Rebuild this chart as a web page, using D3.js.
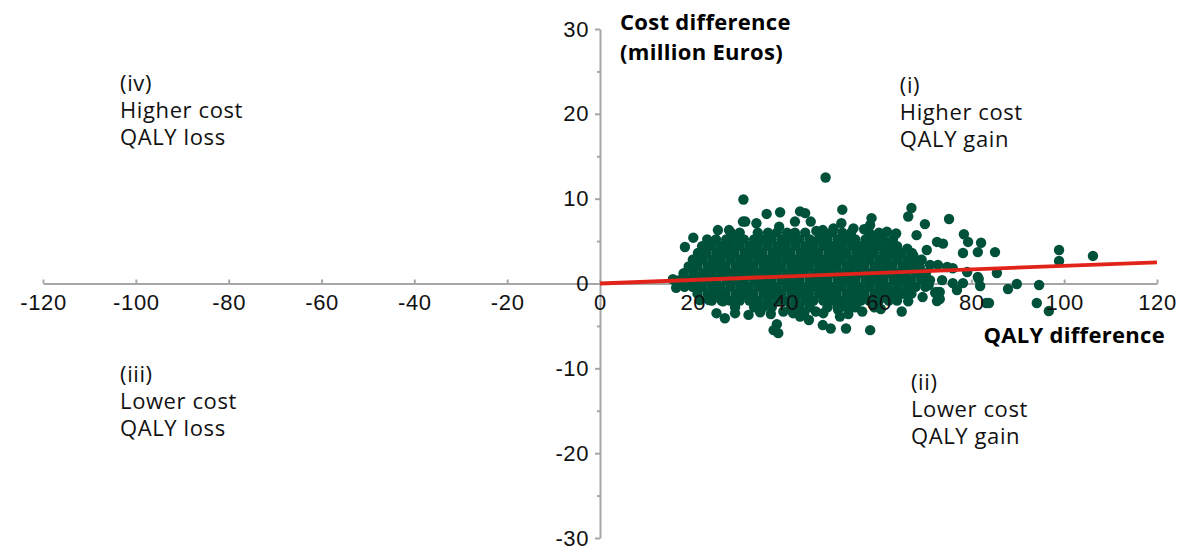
<!DOCTYPE html>
<html>
<head>
<meta charset="utf-8">
<script src="https://cdn.jsdelivr.net/npm/d3@7"></script>
<style>
  html, body { margin: 0; padding: 0; background: #ffffff; }
  svg { display: block; font-family: "Open Sans", "Noto Sans", sans-serif; }
</style>
</head>
<body>
<svg id="chart" width="1178" height="547"></svg>
<script>
// Incremental QALY gain (x) vs. incremental cost in million euros (y), one dot per simulation run.

const xTicks = [-120, -100, -80, -60, -40, -20, 0, 20, 40, 60, 80, 100, 120];
const yTicks = [-30, -20, -10, 0, 10, 20, 30];
const yMinorTicks = [-25, -15, -5, 5, 15, 25];

// Dense centre of the cloud, upper part: [QALY difference, cost difference]
const coreTop = [
  [28.2,6.0],[30.1,6.0],[34.0,6.0],[36.2,6.0],[38.1,6.0],[40.3,6.0],[42.0,6.0],[44.2,6.0],[48.3,6.0],[50.0,6.0],[52.2,6.0],[54.1,6.0],[58.0,6.0],[60.1,6.0],
  [23.1,5.2],[25.0,5.2],[27.2,5.2],[29.1,5.2],[31.0,5.2],[33.2,5.2],[35.1,5.2],[37.0,5.2],[39.2,5.2],[41.1,5.2],[43.0,5.2],[45.2,5.2],[47.1,5.2],[49.0,5.2],[51.2,5.2],[53.1,5.2],[55.0,5.2],[57.2,5.2],[59.1,5.2],[61.0,5.2],[63.1,5.2],
  [22.0,4.4],[24.1,4.4],[26.2,4.4],[28.0,4.4],[30.1,4.4],[32.2,4.4],[34.0,4.4],[36.1,4.4],[38.2,4.4],[40.0,4.4],[42.1,4.4],[44.2,4.4],[46.0,4.4],[48.1,4.4],[50.2,4.4],[52.0,4.4],[54.1,4.4],[56.2,4.4],[58.0,4.4],[60.1,4.4],[62.2,4.4],[64.0,4.4],
  [21.1,3.6],[23.0,3.6],[25.2,3.6],[27.1,3.6],[29.0,3.6],[31.2,3.6],[33.1,3.6],[35.0,3.6],[37.2,3.6],[39.1,3.6],[41.0,3.6],[43.2,3.6],[45.1,3.6],[47.0,3.6],[49.2,3.6],[51.1,3.6],[53.0,3.6],[55.2,3.6],[57.1,3.6],[59.0,3.6],[61.2,3.6],[63.1,3.6],[65.0,3.6],[67.2,3.6]
];

// Dense centre, around the horizontal axis
const coreMiddle = [
  [20.0,2.8],[22.1,2.8],[24.2,2.8],[26.0,2.8],[28.1,2.8],[30.2,2.8],[32.0,2.8],[34.1,2.8],[36.2,2.8],[38.0,2.8],[40.1,2.8],[42.2,2.8],[44.0,2.8],[46.1,2.8],[48.2,2.8],[50.0,2.8],[52.1,2.8],[54.2,2.8],[56.0,2.8],[58.1,2.8],[60.2,2.8],[62.0,2.8],[64.1,2.8],[66.2,2.8],[68.0,2.8],
  [19.1,2.0],[21.0,2.0],[23.2,2.0],[25.1,2.0],[27.0,2.0],[29.2,2.0],[31.1,2.0],[33.0,2.0],[35.2,2.0],[37.1,2.0],[39.0,2.0],[41.2,2.0],[43.1,2.0],[45.0,2.0],[47.2,2.0],[49.1,2.0],[51.0,2.0],[53.2,2.0],[55.1,2.0],[57.0,2.0],[59.2,2.0],[61.1,2.0],[63.0,2.0],[65.2,2.0],[67.1,2.0],
  [18.0,1.2],[20.1,1.2],[22.2,1.2],[24.0,1.2],[26.1,1.2],[28.2,1.2],[30.0,1.2],[32.1,1.2],[34.2,1.2],[36.0,1.2],[38.1,1.2],[40.2,1.2],[42.0,1.2],[44.1,1.2],[46.2,1.2],[48.0,1.2],[50.1,1.2],[52.2,1.2],[54.0,1.2],[56.1,1.2],[58.2,1.2],[60.0,1.2],[62.1,1.2],[64.2,1.2],[66.0,1.2],[68.1,1.2],[70.2,1.2],
  [17.1,0.4],[19.0,0.4],[21.2,0.4],[23.1,0.4],[25.0,0.4],[27.2,0.4],[29.1,0.4],[31.0,0.4],[33.2,0.4],[35.1,0.4],[37.0,0.4],[39.2,0.4],[41.1,0.4],[43.0,0.4],[45.2,0.4],[47.1,0.4],[49.0,0.4],[51.2,0.4],[53.1,0.4],[55.0,0.4],[57.2,0.4],[59.1,0.4],[61.0,0.4],[63.2,0.4],[65.1,0.4],[67.0,0.4],[69.2,0.4],[71.1,0.4]
];

// Dense centre, lower part
const coreBottom = [
  [18.2,-0.4],[20.0,-0.4],[22.1,-0.4],[24.2,-0.4],[26.0,-0.4],[28.1,-0.4],[30.2,-0.4],[32.0,-0.4],[34.1,-0.4],[36.2,-0.4],[38.0,-0.4],[40.1,-0.4],[42.2,-0.4],[44.0,-0.4],[46.1,-0.4],[48.2,-0.4],[50.0,-0.4],[52.1,-0.4],[54.2,-0.4],[56.0,-0.4],[58.1,-0.4],[60.2,-0.4],[62.0,-0.4],[64.1,-0.4],[66.2,-0.4],[68.0,-0.4],[70.1,-0.4],
  [21.0,-1.2],[23.2,-1.2],[25.1,-1.2],[27.0,-1.2],[29.2,-1.2],[31.1,-1.2],[33.0,-1.2],[35.2,-1.2],[37.1,-1.2],[39.0,-1.2],[41.2,-1.2],[43.1,-1.2],[45.0,-1.2],[47.2,-1.2],[49.1,-1.2],[51.0,-1.2],[53.2,-1.2],[55.1,-1.2],[57.0,-1.2],[59.2,-1.2],[61.1,-1.2],[63.0,-1.2],[65.2,-1.2],[67.1,-1.2],
  [24.1,-2.0],[26.2,-2.0],[28.0,-2.0],[30.1,-2.0],[32.2,-2.0],[34.0,-2.0],[36.1,-2.0],[38.2,-2.0],[40.0,-2.0],[42.1,-2.0],[44.2,-2.0],[46.0,-2.0],[48.1,-2.0],[50.2,-2.0],[52.0,-2.0],[54.1,-2.0],[56.2,-2.0],[58.0,-2.0],[60.1,-2.0],[62.2,-2.0],[64.0,-2.0],
  [29.1,-2.8],[33.2,-2.8],[35.1,-2.8],[37.0,-2.8],[41.1,-2.8],[43.0,-2.8],[45.2,-2.8],[49.0,-2.8],[51.2,-2.8],[53.1,-2.8],[55.0,-2.8],[59.1,-2.8]
];

// Scattered runs round the edge of the cloud
const outerPoints = [
  [48.6,12.5],[30.9,9.9],[67.1,8.9],[66.4,7.9],[75.2,7.6],[70.0,7.0],[68.2,5.7],[78.4,5.8],[79.3,4.9],[72.6,4.9],[73.9,4.7],[82.1,4.8],
  [70.4,3.95],[78.2,3.6],[81.4,3.7],[85.1,3.7],[98.9,3.95],[98.9,2.66],[106.2,3.25],[85.5,1.24],[81.6,0.53],[81.9,-0.3],[87.9,-0.65],
  [89.8,-0.06],[94.6,-0.18],[94.1,-2.3],[96.7,-3.25],[83.2,-2.3],[83.8,-2.3],[73.2,-1.83],[72.4,-1.0],
  [43.1,8.5],[44.2,8.3],[52.2,8.7],[38.8,8.4],[35.9,8.2],[58.5,7.7],[52.0,7.1],[42.0,7.3],[45.4,7.3],[54.6,6.5],[58.2,6.9],
  [61.8,6.1],[63.8,5.9],[50.3,6.5],[48.0,6.3],[31.3,7.3],[33.7,7.1],[30.8,7.3],[25.4,6.3],[27.8,6.3],[20.1,5.4],[18.3,4.3],
  [23.7,4.5],[21.9,3.8],[20.1,2.5],[46.6,6.2],[56.9,6.4],[38.6,6.7],
  [15.7,0.5],[16.4,-0.5],[20.1,-0.4],[21.5,-1.95],[23.5,-1.95],[26.5,-2.1],[25.1,-3.5],[26.9,-4.1],[29.1,-3.5],[32.0,-3.7],
  [38.1,-4.8],[37.4,-5.5],[38.4,-5.85],[41.6,-3.5],[43.1,-3.9],[45.0,-4.3],[48.0,-4.9],[49.7,-5.3],[53.0,-5.3],[58.2,-5.5],
  [48.1,-3.5],[51.7,-3.9],[51.3,-3.1],[55.3,-2.3],[60.3,-1.1],[64.2,-1.0],[65.0,-3.3],[66.4,-2.1],[63.9,-1.55],
  [34.5,-3.4],[36.8,-3.6],[39.5,-3.3],[44.0,-3.5],[46.5,-3.3],[53.5,-3.6],[56.5,-3.3],[60.5,-3.0],
  [68.9,1.95],[71.1,2.2],[72.8,2.2],[74.8,1.95],[76.0,1.8],[79.1,1.35],[81.4,0.77],[73.7,0.4],[76.0,0.05],[78.2,0.05],
  [73.2,-1.0],[72.2,-1.1],[76.9,-0.77],[72.6,-2.07],[66.2,4.1],[67.5,3.3],[69.3,2.8],[69.5,-1.6],[70.8,-0.2]
];

// Willingness-to-pay line through the origin
const thresholdLine = [[0, 0], [120, 2.5]];

// Quadrant descriptions, placed at the first line's baseline
const quadrantLabels = [
  { x: -103.4, y: 22.7,  lines: ["(iv)", "Higher cost", "QALY loss"] },
  { x: 64.6,   y: 22.45, lines: ["(i)", "Higher cost", "QALY gain"] },
  { x: -103.4, y: -11.6, lines: ["(iii)", "Lower cost", "QALY loss"] },
  { x: 67.0,   y: -12.6, lines: ["(ii)", "Lower cost", "QALY gain"] }
];

const axisColor = "#a6a6a6";
const dotColor = "#00513a";
const lineColor = "#e2231a";
const textColor = "#111111";
const fontSize = 22;
const letterGap = 0.6;

const svg = d3.select("#chart");
const x = d3.scaleLinear().domain([-120, 120]).range([43, 1157]);
const y = d3.scaleLinear().domain([-30, 30]).range([538, 29]);

function styleAxis(g) {
  g.select(".domain").attr("stroke", axisColor).attr("stroke-width", 2);
  g.selectAll(".tick line").attr("stroke", axisColor).attr("stroke-width", 2);
}

// Axis lines and tick marks
svg.append("g")
  .attr("transform", `translate(0,${y(0)})`)
  .call(d3.axisBottom(x).tickValues(xTicks).tickSizeInner(-4).tickSizeOuter(0).tickFormat(""))
  .call(styleAxis);

svg.append("g")
  .attr("transform", `translate(${x(0)},0)`)
  .call(d3.axisLeft(y).tickValues(yTicks).tickSizeInner(5).tickSizeOuter(0).tickFormat(""))
  .call(styleAxis);

svg.append("g")
  .attr("transform", `translate(${x(0)},0)`)
  .call(d3.axisLeft(y).tickValues(yMinorTicks).tickSizeInner(3).tickSizeOuter(0).tickFormat(""))
  .call(g => g.select(".domain").remove())
  .call(styleAxis);

// Simulation runs
const allPoints = coreTop.concat(coreMiddle, coreBottom, outerPoints);
svg.append("g")
  .selectAll("circle")
  .data(allPoints)
  .join("circle")
  .attr("cx", d => x(d[0]))
  .attr("cy", d => y(d[1]))
  .attr("r", 5.2)
  .attr("fill", dotColor);

// Threshold line
svg.append("path")
  .datum(thresholdLine)
  .attr("fill", "none")
  .attr("stroke", lineColor)
  .attr("stroke-width", 3.8)
  .attr("d", d3.line().x(d => x(d[0])).y(d => y(d[1])));

// Tick labels, drawn above the dots (plain hyphen for negatives)
const plainFormat = d => String(d);
function styleLabels(g) {
  g.select(".domain").remove();
  g.selectAll(".tick line").remove();
  g.selectAll("text")
    .attr("font-size", fontSize)
    .attr("font-family", null)
    .attr("letter-spacing", letterGap)
    .attr("fill", textColor);
}

svg.append("g")
  .attr("transform", `translate(0,${y(0)})`)
  .call(d3.axisBottom(x).tickValues(xTicks).tickSize(0).tickPadding(11).tickFormat(plainFormat))
  .call(styleLabels);

svg.append("g")
  .attr("transform", `translate(${x(0)},0)`)
  .call(d3.axisLeft(y).tickValues(yTicks).tickSize(0).tickPadding(11).tickFormat(plainFormat))
  .call(styleLabels);

// Axis titles
const yTitle = svg.append("text")
  .attr("y", 30)
  .attr("font-size", 22)
  .attr("font-weight", 700)
  .attr("letter-spacing", 0.3)
  .attr("fill", "#000");
yTitle.append("tspan").attr("x", x(0) + 20).attr("dy", 0).text("Cost difference");
yTitle.append("tspan").attr("x", x(0) + 20).attr("dy", 30).text("(million Euros)");

svg.append("text")
  .attr("x", 1165)
  .attr("y", 343)
  .attr("text-anchor", "end")
  .attr("font-size", 22)
  .attr("font-weight", 700)
  .attr("letter-spacing", 0.3)
  .attr("fill", "#000")
  .text("QALY difference");

// Quadrant descriptions
const quad = svg.append("g");
quadrantLabels.forEach(q => {
  const t = quad.append("text")
    .attr("y", y(q.y))
    .attr("font-size", fontSize)
    .attr("letter-spacing", letterGap)
    .attr("fill", textColor);
  q.lines.forEach((line, i) => {
    t.append("tspan").attr("x", x(q.x)).attr("dy", i === 0 ? 0 : 27).text(line);
  });
});
</script>
</body>
</html>
